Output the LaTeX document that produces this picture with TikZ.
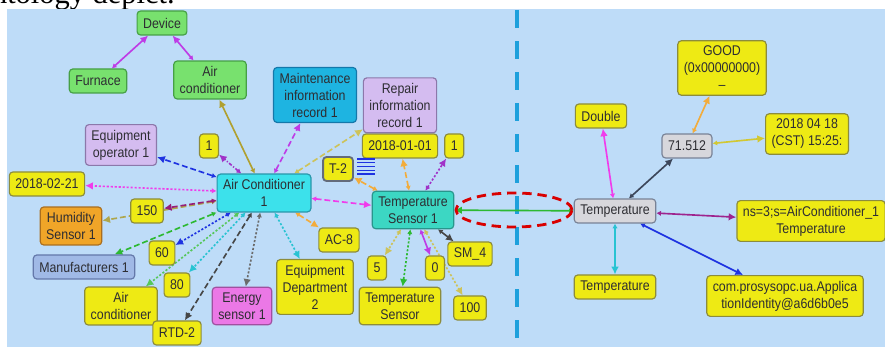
\documentclass[tikz,border=0pt]{standalone}
\usepackage{fontspec}
\setmainfont{Liberation Sans}[FakeStretch=0.88]
\newfontfamily\capfont{Liberation Serif}
\usetikzlibrary{arrows.meta, positioning}

\definecolor{skyback}{RGB}{190,220,248}
\definecolor{txtgray}{RGB}{45,45,50}
\definecolor{nodeyellow}{RGB}{238,234,20}
\definecolor{lineyellow}{RGB}{140,140,60}
\definecolor{nodegreen}{RGB}{120,225,110}
\definecolor{linegreen}{RGB}{70,160,70}
\definecolor{nodecyan}{RGB}{60,225,235}
\definecolor{linecyan}{RGB}{40,150,170}
\definecolor{nodeteal}{RGB}{60,215,195}
\definecolor{lineteal}{RGB}{40,150,140}
\definecolor{nodelav}{RGB}{212,188,240}
\definecolor{linelav}{RGB}{140,120,170}
\definecolor{nodeblue}{RGB}{30,180,225}
\definecolor{lineblue}{RGB}{20,120,170}
\definecolor{nodeorange}{RGB}{240,165,40}
\definecolor{lineorange}{RGB}{170,110,30}
\definecolor{nodesteel}{RGB}{160,185,230}
\definecolor{linesteel}{RGB}{100,120,170}
\definecolor{nodepink}{RGB}{235,120,230}
\definecolor{linepink}{RGB}{160,80,160}
\definecolor{nodegray}{RGB}{215,215,220}
\definecolor{linegray}{RGB}{120,130,150}
\definecolor{sepblue}{RGB}{30,160,220}
% connector colours
\definecolor{cOlive}{RGB}{176,160,48}
\definecolor{cViolet}{RGB}{190,60,230}
\definecolor{cKhaki}{RGB}{205,195,90}
\definecolor{cBlue}{RGB}{30,50,225}
\definecolor{cPurple}{RGB}{160,50,200}
\definecolor{cMagenta}{RGB}{240,60,235}
\definecolor{cPlum}{RGB}{150,30,120}
\definecolor{cGreen}{RGB}{45,185,50}
\definecolor{cCyan}{RGB}{40,195,210}
\definecolor{cDark}{RGB}{70,70,70}
\definecolor{cOrange}{RGB}{242,172,60}
\definecolor{cSlate}{RGB}{60,70,90}
\definecolor{cGold}{RGB}{210,200,50}

\pgfdeclarelayer{backdrop}
\pgfdeclarelayer{links}
\pgfsetlayers{backdrop,links,main}

\begin{document}
\begin{tikzpicture}[
    x=0.03cm, y=-0.03cm,
    box/.style={rectangle, rounded corners=3pt, line width=1pt, align=center,
                inner xsep=0.18cm, inner ysep=0.16cm, minimum height=0.72cm,
                font=\fontsize{12}{14.5}\selectfont, text=txtgray},
    ybox/.style={box, fill=nodeyellow, draw=lineyellow},
    gbox/.style={box, fill=nodegreen, draw=linegreen},
    cbox/.style={box, fill=nodecyan, draw=linecyan},
    tbox/.style={box, fill=nodeteal, draw=lineteal},
    lbox/.style={box, fill=nodelav, draw=linelav},
    bbox/.style={box, fill=nodeblue, draw=lineblue},
    obox/.style={box, fill=nodeorange, draw=lineorange},
    sbox/.style={box, fill=nodesteel, draw=linesteel},
    pbox/.style={box, fill=nodepink, draw=linepink},
    wbox/.style={box, fill=nodegray, draw=linegray},
    arr/.style={{Latex[length=1.4mm,width=1.6mm]}-{Latex[length=2.3mm,width=2.3mm]}, line width=1.4pt},
    dashline/.style={dash pattern=on 5pt off 2.5pt},
    dotline/.style={dash pattern=on 1.8pt off 1.6pt},
]
\useasboundingbox (0,0) rectangle (885,347);

% ── Backdrop ──
\begin{pgfonlayer}{backdrop}
\fill[white] (0,0) rectangle (885,347);
\fill[skyback] (7,9) rectangle (885,347);
\draw[sepblue, line width=3.4pt, dash pattern=on 15pt off 11.5pt] (517,10) -- (517,347);
\end{pgfonlayer}
\begin{scope}
\clip (0,0) rectangle (885,9);
\node[font=\capfont\fontsize{26}{26}\selectfont, anchor=base east, inner sep=0] (caption) at (175,4) {ontology depict.};
\end{scope}

% ── Class nodes (top) ──
\node[gbox] (device) at (162,23) {Device};
\node[gbox] (furnace) at (98,81) {Furnace};
\node[gbox] (aircondg) at (210,80) {Air\\conditioner};

% ── Air Conditioner 1 and its neighbours ──
\node[cbox] (ac1) at (264,193) {Air Conditioner\\1};
\node[bbox] (maint) at (315,95) {Maintenance\\information\\record 1};
\node[lbox] (eop) at (121,145) {Equipment\\operator 1};
\node[ybox] (one1) at (209,146) {1};
\node[ybox] (date0221) at (47,184) {2018-02-21};
\node[obox] (humid) at (71,226) {Humidity\\Sensor 1};
\node[ybox] (v150) at (147,211) {150};
\node[sbox] (manuf) at (84,267) {Manufacturers 1};
\node[ybox] (v60) at (162,253) {60};
\node[ybox] (v80) at (177,285) {80};
\node[ybox] (aircondy) at (121,306) {Air\\conditioner};
\node[ybox] (rtd) at (177,333) {RTD-2};
\node[pbox] (energy) at (242,306) {Energy\\sensor 1};
\node[ybox] (dept) at (315,287) {Equipment\\Department\\2};
\node[ybox] (ac8) at (339,240) {AC-8};

% ── Temperature Sensor 1 and its neighbours ──
\node[tbox] (ts1) at (413,210) {Temperature\\Sensor 1};
\node[ybox] (date0101) at (400,146) {2018-01-01};
\node[lbox, above=0pt of date0101] (repair) {Repair\\information\\record 1};
\node[ybox, right=0.18cm of date0101] (one2) {1};
\node[ybox, line width=1.6pt, draw=cSlate!80] (t2) at (338,169) {T-2};
\foreach \i in {0,...,4}
  \draw[cBlue, line width=1.2pt] (357,159+3.8*\i) -- ++(18,0);
\node[ybox] (v5) at (377,268) {5};
\node[ybox] (v0) at (435,268) {0};
\node[ybox] (sm4) at (470,254) {SM\_4};
\node[ybox] (tsens) at (400,306) {Temperature\\Sensor};
\node[ybox] (v100) at (470,308) {100};

% ── Right half: OPC UA node ──
\node[wbox] (temp) at (615,211) {Temperature};
\node[ybox] (double) at (601,116) {Double};
\node[wbox] (val) at (687,146) {71.512};
\node[ybox] (good) at (722,68) {GOOD\\(0x00000000)\\--};
\node[ybox] (stamp) at (807,134) {2018 04 18\\(CST) 15:25:};
\node[ybox] (nsid) at (811,221) {ns=3;s=AirConditioner\_1\\Temperature};
\node[ybox] (tempy) at (615,287) {Temperature};
\node[ybox] (appid) at (785,296) {com.prosysopc.ua.Applica\\tionIdentity@a6d6b0e5};

% ── Connectors ──
\begin{pgfonlayer}{links}
\draw[arr, cViolet] (furnace) -- (device);
\draw[arr, cViolet] (aircondg) -- (device);

\draw[arr, cOlive] (ac1) -- (aircondg);
\draw[arr, cViolet, dashline] (ac1) -- (maint);
\draw[arr, cKhaki, dashline] (ac1) -- (repair);
\draw[arr, cBlue, dashline] (ac1) -- (eop);
\draw[arr, cPurple, dash pattern=on 3pt off 1.5pt on 1pt off 1.5pt] (ac1) -- (one1);
\draw[arr, cMagenta, dotline] (ac1) -- (date0221);
\draw[arr, cKhaki!85!black, dashline] (ac1) -- (humid);
\draw[arr, cPlum, dashline] (ac1) -- (v150);
\draw[arr, cGreen, dashline] (ac1) -- (manuf);
\draw[arr, cBlue, dotline] (ac1) -- (v60);
\draw[arr, cGreen!80!white, dotline] (ac1) -- (aircondy);
\draw[arr, cCyan, dotline] (ac1) -- (v80);
\draw[arr, cDark, dashline] (ac1) -- (rtd);
\draw[arr, cDark!80, dotline] (ac1) -- (energy);
\draw[arr, cCyan, dotline] (ac1) -- (dept);
\draw[arr, cOrange, dashline] (ac1) -- (ac8);
\draw[arr, cMagenta, dashline] (ac1) -- (ts1);

\draw[arr, cOrange, dashline] (ts1) -- (t2);
\draw[arr, cOrange, dashline] (ts1) -- (date0101);
\draw[arr, cPurple, dotline] (ts1) -- (one2);
\draw[arr, cKhaki, dotline] (ts1) -- (v5);
\draw[arr, cGreen, dotline] (ts1) -- (tsens);
\draw[arr, cViolet] (ts1) -- (v0);
\draw[arr, cKhaki, dotline] (ts1) -- (v100);
\draw[arr, cDark] (ts1) -- (sm4);

\draw[arr, cGreen] (temp) -- (ts1);
\draw[arr, cMagenta] (temp) -- (double);
\draw[arr, cSlate] (temp) -- (val);
\draw[arr, cOrange] (val) -- (good);
\draw[arr, cGold] (val) -- (stamp);
\draw[arr, cPlum!80!cViolet] (temp) -- (nsid);
\draw[arr, cCyan] (temp) -- (tempy);
\draw[arr, cBlue] (temp) -- (appid);
\end{pgfonlayer}

% ── Highlight of the link between the two halves ──
\draw[red!85!black, line width=2.4pt, dash pattern=on 8pt off 5pt] (514,210) ellipse [x radius=1.74cm, y radius=0.51cm];

\end{tikzpicture}
\end{document}
